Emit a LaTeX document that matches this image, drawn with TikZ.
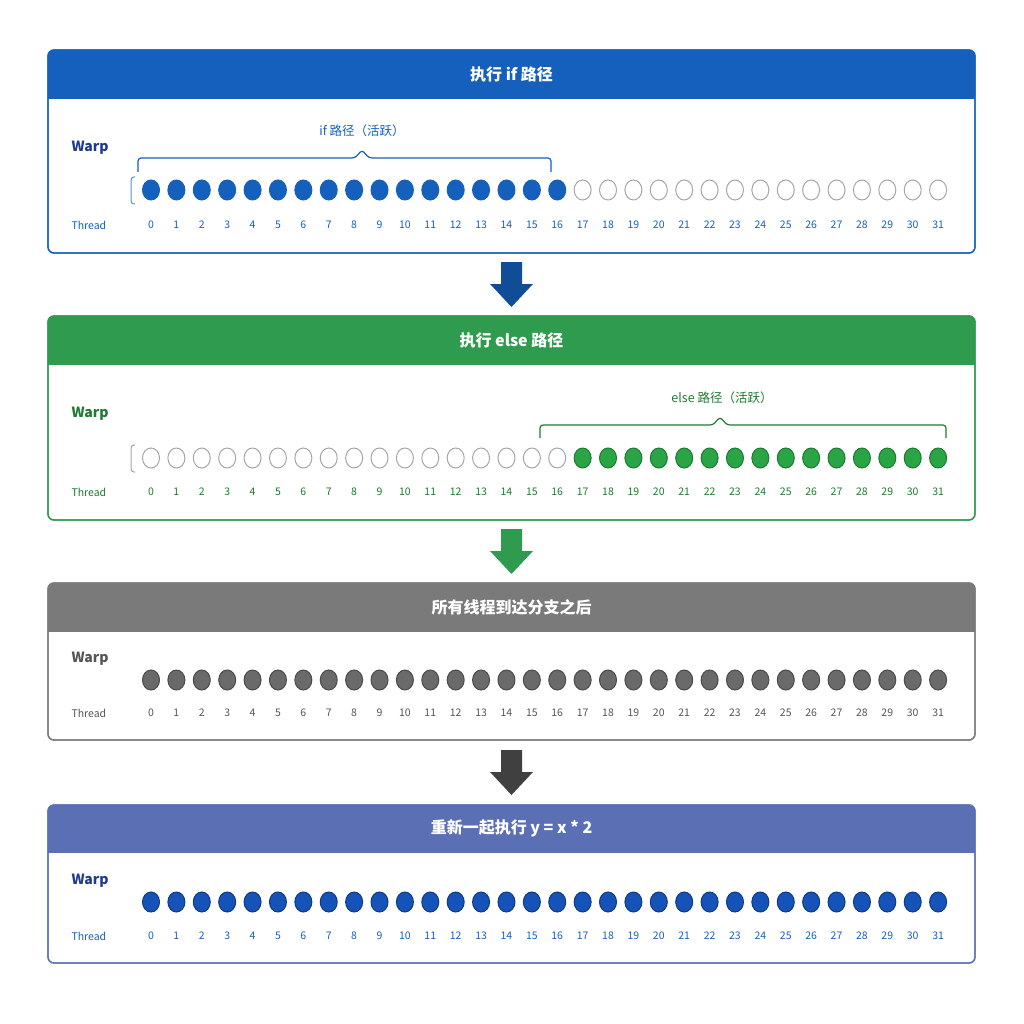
\documentclass[tikz,border=0pt]{standalone}
\usepackage{fontspec}
\usetikzlibrary{shapes.geometric}
\setmainfont{Noto Sans CJK SC}
\begin{document}
\begin{tikzpicture}[x=1pt,y=-1pt,
  panel/.style={draw=#1,line width=1.3pt,rounded corners=6pt,fill=white},
  lbl/.style={font=\bfseries\fontsize{14}{16}\selectfont,anchor=west},
  thr/.style={font=\fontsize{10.5}{12}\selectfont},
  dot/.style={ellipse,minimum width=17pt,minimum height=20pt,inner sep=0pt,line width=1pt},
  hdr/.style={text=white,font=\bfseries\fontsize{16}{19}\selectfont}]
\definecolor{cb}{HTML}{1560BD}\definecolor{cbt}{HTML}{1F3A8F}
\definecolor{cg}{HTML}{2E9B4E}\definecolor{cgt}{HTML}{1E7A32}
\definecolor{cgy}{HTML}{7A7A7A}\definecolor{cgyt}{HTML}{555555}
\definecolor{ci}{HTML}{5B6FB5}\definecolor{cin}{HTML}{1553B8}
\definecolor{cdot}{HTML}{6A6A6A}
\useasboundingbox (0,0) rectangle (1024,1024);
\fill[white] (0,0) rectangle (1024,1024);
\newcommand{\mypanel}[6]{%
  \draw[panel=#4] (48,#1) rectangle (975,#2);
  \begin{scope}
  \clip[rounded corners=6pt] (48,#1) rectangle (975,#2);
  \fill[#4] (48,#1) rectangle (975,#3);
  \end{scope}
  \draw[#4,line width=1.3pt] (48,#3) -- (975,#3);
  \draw[panel=#4,fill=none] (48,#1) rectangle (975,#2);
  \node[hdr] (#6) at (511.5,{(#1+#3)/2}) {#5};
}
% Panel 1
\mypanel{50}{253}{98}{cb}{执行 if 路径}{h1}
\node[lbl,text=cbt] (w1) at (68,148) {Warp};
\node[thr,text=cb,anchor=west] (t1) at (68,225) {Thread};
\foreach \i in {0,...,31}{
  \pgfmathsetmacro\xx{151+25.39*\i}
  \ifnum\i<17 \node[dot,fill=cb,draw=cb] (a\i) at (\xx,190) {};
  \else \node[dot,draw=gray!70,fill=white] (a\i) at (\xx,190) {}; \fi
  \node[thr,text=cb] (na\i) at (\xx,225) {\i};}
\draw[cb!70,line width=1pt,rounded corners=3pt] (135,177) -- (131,177) -- (131,204) -- (135,204);
\draw[cb,line width=1.2pt,rounded corners=3pt] (138,172) -- (138,158) -- (355,158) -- (362,150) -- (369,158) -- (551,158) -- (551,172);
\node[text=cb,font=\fontsize{12.5}{15}\selectfont] (l1) at (362,131) {if 路径（活跃）};
\fill[cb!80!black] (501,262) -- (522,262) -- (522,284) -- (533,284) -- (511.5,307) -- (490,284) -- (501,284) -- cycle;
% Panel 2
\mypanel{316}{520}{364}{cg}{执行 else 路径}{h2}
\node[lbl,text=cgt] (w2) at (68,414) {Warp};
\node[thr,text=cgt,anchor=west] (t2) at (68,492) {Thread};
\foreach \i in {0,...,31}{
  \pgfmathsetmacro\xx{151+25.39*\i}
  \ifnum\i<17 \node[dot,draw=gray!70,fill=white] (b\i) at (\xx,458) {};
  \else \node[dot,fill=cg!90!green,draw=cgt] (b\i) at (\xx,458) {}; \fi
  \node[thr,text=cgt] (nb\i) at (\xx,492) {\i};}
\draw[gray!70,line width=1pt,rounded corners=3pt] (135,445) -- (131,445) -- (131,472) -- (135,472);
\draw[cgt,line width=1.2pt,rounded corners=3pt] (540,438) -- (540,425) -- (713,425) -- (720,417) -- (727,425) -- (946,425) -- (946,438);
\node[text=cgt,font=\fontsize{12.5}{15}\selectfont] (l2) at (722,398) {else 路径（活跃）};
\fill[cg] (501,529) -- (522,529) -- (522,551) -- (533,551) -- (511.5,574) -- (490,551) -- (501,551) -- cycle;
% Panel 3
\mypanel{583}{740}{631}{cgy}{所有线程到达分支之后}{h3}
\node[lbl,text=cgyt] (w3) at (68,659) {Warp};
\node[thr,text=cgyt,anchor=west] (t3) at (68,713) {Thread};
\foreach \i in {0,...,31}{
  \pgfmathsetmacro\xx{151+25.39*\i}
  \node[dot,fill=cdot,draw=cdot!70!black] (c\i) at (\xx,680) {};
  \node[thr,text=cgyt] (nc\i) at (\xx,713) {\i};}
\fill[gray!50!black] (501,750) -- (522,750) -- (522,772) -- (533,772) -- (511.5,795) -- (490,772) -- (501,772) -- cycle;
% Panel 4
\mypanel{805}{963}{852}{ci}{重新一起执行 y = x * 2}{h4}
\node[lbl,text=cbt] (w4) at (68,881) {Warp};
\node[thr,text=cb,anchor=west] (t4) at (68,936) {Thread};
\foreach \i in {0,...,31}{
  \pgfmathsetmacro\xx{151+25.39*\i}
  \node[dot,fill=cin,draw=cin!70!black] (d\i) at (\xx,902) {};
  \node[thr,text=cb] (nd\i) at (\xx,936) {\i};}
\end{tikzpicture}
\end{document}
